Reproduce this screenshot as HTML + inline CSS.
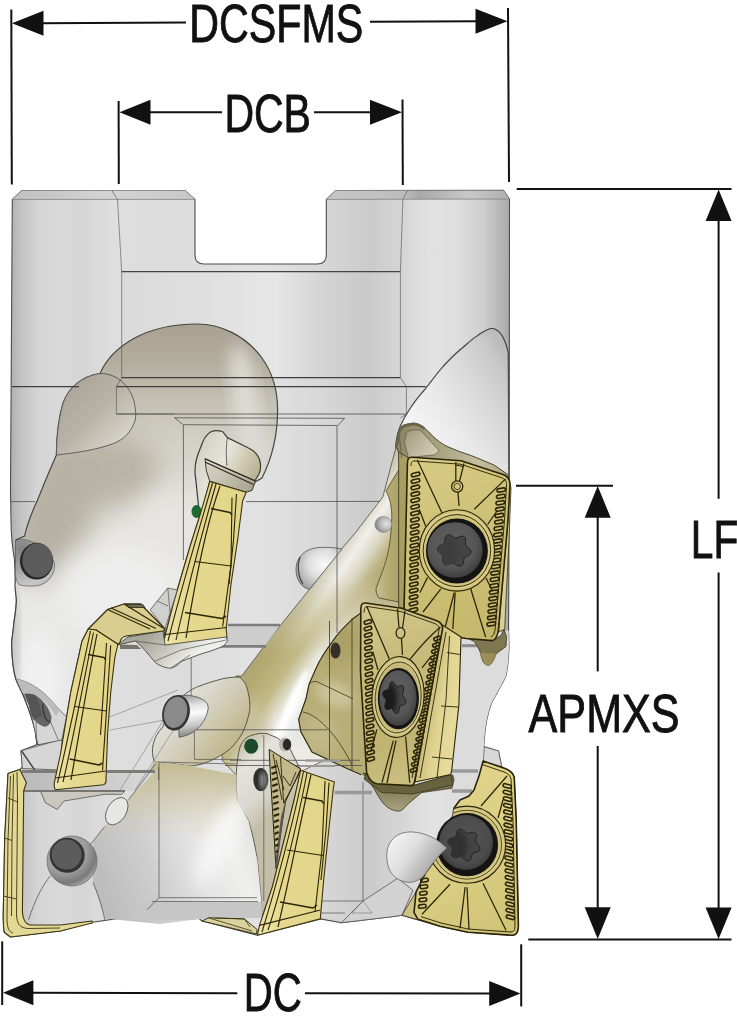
<!DOCTYPE html>
<html><head><meta charset="utf-8">
<style>
html,body{margin:0;padding:0;background:#fff;}
body{width:737px;height:1024px;overflow:hidden;font-family:"Liberation Sans",sans-serif;}
svg{display:block;}
.t{font-family:"Liberation Sans",sans-serif;font-size:53px;fill:#111;stroke:#111;stroke-width:0.9px;}
</style></head><body>
<svg width="737" height="1024" viewBox="0 0 737 1024">
<defs>
<linearGradient id="gBody" x1="12" y1="0" x2="509" y2="0" gradientUnits="userSpaceOnUse">
<stop offset="0" stop-color="#b2b2b2"/><stop offset="0.02" stop-color="#c4c4c4"/><stop offset="0.05" stop-color="#d4d4d4"/><stop offset="0.10" stop-color="#dadada"/><stop offset="0.14" stop-color="#d5d5d5"/>
<stop offset="0.2" stop-color="#dedede"/><stop offset="0.35" stop-color="#dcdcdc"/><stop offset="0.5" stop-color="#e2e2e2"/><stop offset="0.62" stop-color="#d8d8d8"/><stop offset="0.72" stop-color="#cbcbcb"/><stop offset="0.78" stop-color="#d4d4d4"/>
<stop offset="0.84" stop-color="#e2e2e2"/><stop offset="0.90" stop-color="#dedede"/><stop offset="0.95" stop-color="#cdcdcd"/><stop offset="1" stop-color="#aaaaaa"/></linearGradient>
<linearGradient id="gCham" x1="12" y1="0" x2="509" y2="0" gradientUnits="userSpaceOnUse">
<stop offset="0" stop-color="#c0c0c0"/><stop offset="0.2" stop-color="#d4d4d4"/><stop offset="0.36" stop-color="#c8c8c8"/>
<stop offset="0.65" stop-color="#c6c6c6"/><stop offset="0.79" stop-color="#bdbdbd"/><stop offset="0.82" stop-color="#a8a8a8"/><stop offset="0.92" stop-color="#c9c9c9"/><stop offset="1" stop-color="#b0b0b0"/></linearGradient>
<linearGradient id="gMid" x1="122" y1="0" x2="400" y2="0" gradientUnits="userSpaceOnUse">
<stop offset="0" stop-color="#dadada"/><stop offset="0.3" stop-color="#dfdfdf"/><stop offset="0.55" stop-color="#e6e6e6"/><stop offset="0.72" stop-color="#d4d4d4"/><stop offset="0.88" stop-color="#c9c9c9"/><stop offset="1" stop-color="#d6d6d6"/></linearGradient>

<filter id="b4" x="-20%" y="-20%" width="140%" height="140%"><feGaussianBlur stdDeviation="4"/></filter>
<filter id="b8" x="-30%" y="-30%" width="160%" height="160%"><feGaussianBlur stdDeviation="8"/></filter>
<filter id="b14" x="-40%" y="-40%" width="180%" height="180%"><feGaussianBlur stdDeviation="14"/></filter>
<filter id="b2" x="-20%" y="-20%" width="140%" height="140%"><feGaussianBlur stdDeviation="2"/></filter>
<!-- right flute -->
<linearGradient id="gRF" x1="415" y1="425" x2="512" y2="365" gradientUnits="userSpaceOnUse">
<stop offset="0" stop-color="#f4f4f4"/><stop offset="0.3" stop-color="#e9e9e9"/><stop offset="0.65" stop-color="#d8d8d8"/><stop offset="0.9" stop-color="#c8c8c8"/><stop offset="1" stop-color="#bcbcbc"/></linearGradient>
<linearGradient id="gRFtop" x1="0" y1="328" x2="0" y2="400" gradientUnits="userSpaceOnUse"><stop offset="0" stop-color="#bdbdbd" stop-opacity="0.9"/><stop offset="1" stop-color="#cfcfcf" stop-opacity="0"/></linearGradient>
<!-- dome -->
<linearGradient id="gDome" x1="0" y1="324" x2="0" y2="480" gradientUnits="userSpaceOnUse">
<stop offset="0" stop-color="#b9b3a5"/><stop offset="0.3" stop-color="#bfb9ab"/><stop offset="0.6" stop-color="#d3cfc5"/><stop offset="1" stop-color="#e3e1db"/></linearGradient>
<linearGradient id="gLobe" x1="62" y1="385" x2="125" y2="450" gradientUnits="userSpaceOnUse">
<stop offset="0" stop-color="#a9a497"/><stop offset="0.5" stop-color="#b9b4a7"/><stop offset="1" stop-color="#dedbd2"/></linearGradient>
<linearGradient id="gLF" x1="40" y1="470" x2="150" y2="640" gradientUnits="userSpaceOnUse">
<stop offset="0" stop-color="#b5b0a2"/><stop offset="0.3" stop-color="#cdc9bf"/><stop offset="0.6" stop-color="#e4e3df"/><stop offset="1" stop-color="#ededed"/></linearGradient>
<!-- diagonal flute -->
<linearGradient id="gDiag" x1="330" y1="520" x2="420" y2="600" gradientUnits="userSpaceOnUse">
<stop offset="0" stop-color="#d9d6c8"/><stop offset="0.3" stop-color="#c6bd92"/><stop offset="0.7" stop-color="#b3a66b"/><stop offset="1" stop-color="#a3955a"/></linearGradient>

<linearGradient id="gGold1" x1="410" y1="460" x2="500" y2="640" gradientUnits="userSpaceOnUse"><stop offset="0" stop-color="#d8cb86"/><stop offset="0.35" stop-color="#d0c278"/><stop offset="0.7" stop-color="#cabc70"/><stop offset="1" stop-color="#c5b66a"/></linearGradient>
<radialGradient id="gRing" cx="0.5" cy="0.5" r="0.5"><stop offset="0.8" stop-color="#cdbf72"/><stop offset="0.92" stop-color="#dbcf8e"/><stop offset="1" stop-color="#c8ba6e"/></radialGradient>
<radialGradient id="gScrew" cx="0.45" cy="0.4" r="0.6"><stop offset="0" stop-color="#606060"/><stop offset="0.7" stop-color="#565656"/><stop offset="1" stop-color="#404040"/></radialGradient>
<linearGradient id="gPock1" x1="398" y1="440" x2="505" y2="470" gradientUnits="userSpaceOnUse">
<stop offset="0" stop-color="#8a8466"/><stop offset="0.12" stop-color="#98926f"/><stop offset="0.4" stop-color="#aba481"/><stop offset="0.75" stop-color="#c4bf9f"/><stop offset="1" stop-color="#b0a880"/></linearGradient>
<linearGradient id="gSeat1" x1="406" y1="432" x2="436" y2="456" gradientUnits="userSpaceOnUse"><stop offset="0" stop-color="#9f9a80"/><stop offset="0.6" stop-color="#c2bda4"/><stop offset="1" stop-color="#d2ceb8"/></linearGradient>
<linearGradient id="gGold2" x1="362" y1="605" x2="420" y2="785" gradientUnits="userSpaceOnUse"><stop offset="0" stop-color="#d2c78c"/><stop offset="0.4" stop-color="#c6b978"/><stop offset="0.75" stop-color="#c1b472"/><stop offset="1" stop-color="#ccc184"/></linearGradient>
<linearGradient id="gSide2" x1="430" y1="700" x2="460" y2="705" gradientUnits="userSpaceOnUse">
<stop offset="0" stop-color="#cdbf7c"/><stop offset="0.4" stop-color="#e0d492"/><stop offset="1" stop-color="#e6db9c"/></linearGradient>
<radialGradient id="gRing2" cx="0.5" cy="0.5" r="0.5"><stop offset="0.8" stop-color="#c6b978"/><stop offset="0.92" stop-color="#d8cd92"/><stop offset="1" stop-color="#c0b370"/></radialGradient>
<linearGradient id="gGold3" x1="430" y1="780" x2="515" y2="930" gradientUnits="userSpaceOnUse"><stop offset="0" stop-color="#e2d58c"/><stop offset="0.5" stop-color="#dbce82"/><stop offset="1" stop-color="#d1c376"/></linearGradient>
<radialGradient id="gScrew3" cx="0.5" cy="0.45" r="0.6"><stop offset="0" stop-color="#545454"/><stop offset="0.7" stop-color="#4c4c4c"/><stop offset="1" stop-color="#3a3a3a"/></radialGradient>
<clipPath id="cIns3"><path d="M483.1,761 L505,768.6 C510,770.5 513,773 514.2,777 L516.2,820 L518.4,926 C518.4,932 517,934.8 513,935.3 L468,932.3 L440,926.3 L418,919.3 L414,912.3 L416,892.2 L426,872.2 L435,860.2 L440,835 L453,816 L454,808 L460,800 L469,796 L474,790 L479,776 Z"/></clipPath>

<linearGradient id="gPale" x1="0" y1="0" x2="1" y2="0"><stop offset="0" stop-color="#ede4ab"/><stop offset="0.3" stop-color="#e6d98f"/><stop offset="1" stop-color="#e2d488"/></linearGradient>
<linearGradient id="gClampA" x1="205" y1="460" x2="252" y2="490" gradientUnits="userSpaceOnUse"><stop offset="0" stop-color="#d9d6c8"/><stop offset="0.5" stop-color="#c3bfae"/><stop offset="1" stop-color="#a8a38c"/></linearGradient>
<linearGradient id="gPockA" x1="200" y1="440" x2="260" y2="470" gradientUnits="userSpaceOnUse"><stop offset="0" stop-color="#d2cfc4"/><stop offset="0.45" stop-color="#e6e4db"/><stop offset="0.75" stop-color="#cdc8b0"/><stop offset="1" stop-color="#b7b192"/></linearGradient>
<linearGradient id="gPockB" x1="150" y1="636" x2="180" y2="668" gradientUnits="userSpaceOnUse"><stop offset="0" stop-color="#a9a79d"/><stop offset="0.5" stop-color="#c9c8c0"/><stop offset="1" stop-color="#eeeeec"/></linearGradient>

<clipPath id="cDiag"><path id="pDiag" d="M396,447 L382.8,497 L355.7,532.4 L339.4,551.4 L309.5,589.4 L274.3,632.8 L241.7,676 L236,676 L225,700 L222,760 L236,775 L300,772 L327,759 L312,752 L300.8,731.6 L298.7,719.3 L306,698.8 L309,684.4 L316.2,668 L332.6,641.3 L353,618.7 L361.3,612.6 L361.5,604 L404,610 L408,520 L408,458 L400,440 Z"/></clipPath>
<clipPath id="cPock2"><path d="M361.3,612.6 L353,618.7 C345,626 338,633 332.6,641.3 C326,650 320,659 316.2,668 L309,684.4 L306,698.8 L298.7,719.3 L300.8,731.6 L312,752 L347,768.5 L361.3,774.7 L368,778 L362,672 Z"/></clipPath>
<linearGradient id="gCLobe" x1="170" y1="690" x2="240" y2="750" gradientUnits="userSpaceOnUse"><stop offset="0" stop-color="#e9e8e3"/><stop offset="0.35" stop-color="#d9d6ca"/><stop offset="0.7" stop-color="#cac3a3"/><stop offset="1" stop-color="#bbb184"/></linearGradient>
<linearGradient id="gPockD" x1="238" y1="740" x2="290" y2="800" gradientUnits="userSpaceOnUse"><stop offset="0" stop-color="#bdb79c"/><stop offset="0.3" stop-color="#e4e3dc"/><stop offset="0.7" stop-color="#dad9d1"/><stop offset="1" stop-color="#c2bea8"/></linearGradient>
<clipPath id="cFD"><path d="M154.3,761.6 L191.2,766 L236.2,774.7 L236.7,799.5 L248.6,821.2 L257.3,860.3 L261.6,903.7 L261.6,918 L208,918 L160,924 L105,918.6 L93,882.5 L93,841.8 L104.8,826.5 L116,800 L128.5,799.4 L145.5,777.3 Z"/></clipPath>
<radialGradient id="gHole" cx="0.45" cy="0.45" r="0.6"><stop offset="0" stop-color="#7a7a7a"/><stop offset="0.75" stop-color="#707070"/><stop offset="1" stop-color="#4a4a4a"/></radialGradient>
<radialGradient id="gSph" cx="0.6" cy="0.4" r="0.7"><stop offset="0" stop-color="#fafafa"/><stop offset="0.5" stop-color="#dcdcdc"/><stop offset="1" stop-color="#9a9a9a"/></radialGradient>
<linearGradient id="gDiagLo" x1="248" y1="648" x2="322" y2="698" gradientUnits="userSpaceOnUse">
<stop offset="0" stop-color="#aaa27e"/><stop offset="0.25" stop-color="#b4a970"/><stop offset="0.5" stop-color="#c2b987"/><stop offset="0.68" stop-color="#e4e2d4"/><stop offset="0.8" stop-color="#f4f4f2"/><stop offset="1" stop-color="#e6e6e4"/></linearGradient>
<linearGradient id="gDiagUp" x1="340" y1="520" x2="408" y2="566" gradientUnits="userSpaceOnUse">
<stop offset="0" stop-color="#b7b198"/><stop offset="0.18" stop-color="#d3cfbd"/><stop offset="0.36" stop-color="#f0efea"/><stop offset="0.52" stop-color="#ddd9c6"/><stop offset="0.68" stop-color="#bfb585"/><stop offset="0.85" stop-color="#aea468"/><stop offset="1" stop-color="#a89d62"/></linearGradient>
<linearGradient id="gMaskUp" x1="0" y1="575" x2="0" y2="655" gradientUnits="userSpaceOnUse"><stop offset="0" stop-color="#fff"/><stop offset="1" stop-color="#000"/></linearGradient>
<mask id="mDiagUp" maskUnits="userSpaceOnUse" x="200" y="430" width="230" height="360"><rect x="200" y="430" width="230" height="360" fill="url(#gMaskUp)"/></mask>
<linearGradient id="gFD" x1="100" y1="880" x2="262" y2="820" gradientUnits="userSpaceOnUse">
<stop offset="0" stop-color="#bdbdbd"/><stop offset="0.3" stop-color="#cecece"/><stop offset="0.55" stop-color="#e2e2e2"/><stop offset="0.78" stop-color="#efefee"/><stop offset="1" stop-color="#dedede"/></linearGradient>
<linearGradient id="gFDtop" x1="0" y1="760" x2="0" y2="840" gradientUnits="userSpaceOnUse">
<stop offset="0" stop-color="#c3b98e" stop-opacity="1"/><stop offset="0.4" stop-color="#c8c09c" stop-opacity="0.7"/><stop offset="1" stop-color="#d0cab0" stop-opacity="0"/></linearGradient>
<radialGradient id="gSph2" cx="0.68" cy="0.45" r="0.7"><stop offset="0" stop-color="#e2e2e2"/><stop offset="0.5" stop-color="#bcbcbc"/><stop offset="1" stop-color="#7e7e7e"/></radialGradient>
<linearGradient id="gPSide" x1="378" y1="0" x2="399" y2="0" gradientUnits="userSpaceOnUse"><stop offset="0" stop-color="#c6bd8e"/><stop offset="0.5" stop-color="#b5aa70"/><stop offset="1" stop-color="#aca166"/></linearGradient>
<linearGradient id="gCyl" x1="0" y1="694" x2="0" y2="734" gradientUnits="userSpaceOnUse"><stop offset="0" stop-color="#9a9a9a"/><stop offset="0.3" stop-color="#e4e4e4"/><stop offset="0.5" stop-color="#fafafa"/><stop offset="0.8" stop-color="#c4c4c4"/><stop offset="1" stop-color="#909090"/></linearGradient>

<linearGradient id="gWLobe" x1="392" y1="838" x2="440" y2="872" gradientUnits="userSpaceOnUse"><stop offset="0" stop-color="#f2f2f2"/><stop offset="0.4" stop-color="#dedede"/><stop offset="0.75" stop-color="#b6b6b6"/><stop offset="1" stop-color="#8e8e8e"/></linearGradient>
<radialGradient id="gCB" cx="0.15" cy="0.2" r="1.0"><stop offset="0" stop-color="#808080"/><stop offset="0.45" stop-color="#a6a6a6"/><stop offset="0.8" stop-color="#c8c8c8"/><stop offset="1" stop-color="#b8b8b8"/></radialGradient>
<radialGradient id="gCB2" cx="0.35" cy="0.3" r="0.8"><stop offset="0" stop-color="#b0b0b0"/><stop offset="0.55" stop-color="#9c9c9c"/><stop offset="0.8" stop-color="#7a7a7a"/><stop offset="0.93" stop-color="#a8a8a8"/><stop offset="1" stop-color="#d0d0d0"/></radialGradient>
<linearGradient id="gBand" x1="22" y1="0" x2="156" y2="0" gradientUnits="userSpaceOnUse"><stop offset="0" stop-color="#bababa"/><stop offset="0.5" stop-color="#c8c8c8"/><stop offset="1" stop-color="#dadada"/></linearGradient>
<linearGradient id="gShad2" x1="0" y1="778" x2="0" y2="812" gradientUnits="userSpaceOnUse"><stop offset="0" stop-color="#6b6546"/><stop offset="0.45" stop-color="#8a8460"/><stop offset="1" stop-color="#aaa484"/></linearGradient>

<clipPath id="cLF"><path id="pLF" d="M197,324 C220,324 245,335 262,358 C272,372 277.6,390 277.6,410 C277.6,435 271,460 262,478 L253,483 L209.8,481.4 L200.4,513.8 L190,546.6 L173.5,603 L163.6,641.6 L165,629 L140.4,604 L124,604 L107.6,609.5 L88.2,629 L82,641.2 L70.7,692.5 L60.5,754 L59.3,740 L37,744.6 L35.6,732.7 C33,720 30,712 23.4,695.6 L17,682 C14,675 12,660 11.7,644 C12,635 13.6,630 13.6,625 C15,615 16.4,607 16.4,600 L15,587 L15.9,540 L24.6,536 C28,520 34,508 37.5,500 C41,492 43,486 45.7,480 C49,472 53,463 56.4,455 C56.5,440 58,420 63,403.5 C68,388 82,376 100,373.5 C112,346 146,324 197,324 Z"/></clipPath>
<linearGradient id="gLFbase" x1="0" y1="324" x2="0" y2="700" gradientUnits="userSpaceOnUse">
<stop offset="0" stop-color="#a8a192"/><stop offset="0.1" stop-color="#b3ad9e"/><stop offset="0.2" stop-color="#c3bfb2"/><stop offset="0.32" stop-color="#d4d1c8"/><stop offset="0.5" stop-color="#e2e1dc"/><stop offset="0.75" stop-color="#e9e9e8"/><stop offset="1" stop-color="#e6e6e6"/></linearGradient>


</defs>
<rect width="737" height="1024" fill="#fff"/>
<g id="bodybase">
<path id="sil" d="M12.3,199.4 L21.9,190.6 L185,190.6 L195,199.4 L195,255 Q195,264 204,264 L317.3,264 Q326.3,264 326.3,255 L326.3,199.4 L335.8,190.6 L503.4,190.4 L509.5,199 L509.2,480 L508.6,630.5 L509,647 C508.5,660 507.5,670 505.5,677.3 L491.5,703 C487,715 485,728 484.4,738.3 L483.7,746.5 L498.5,751 L501.6,766.4 L505,768.6 L514.2,777 L516.2,820 L518.4,926 L513,935.3 L468,932.3 L440,926.3 L417.2,919.6 L402,915.2 L395.5,916.3 L341.3,922.8 L320.3,918.9 L257.3,935.2 L202,921 L196.4,916.4 L132,916.4 L87.8,923 L60.6,931 L10.5,937 L4,932 L3.2,917 L4.7,838 L8,773.6 L19.8,769.6 L22.4,767 L21,750.7 L37,744.6 L35.6,732.7 C33,720 30,712 23.4,695.6 L17,682 C14,675 12,660 11.7,644 C12,635 13.6,630 13.6,625 C15,615 16.4,607 16.4,600 C16,585 15,570 14.5,560 C12,545 11,530 11,520 L10.5,490 Z" fill="url(#gBody)" stroke="#4c4c4c" stroke-width="1.1" stroke-linejoin="round"/>
<path d="M12.3,199.4 L21.9,190.6 L185,190.6 L195,199.4 Z" fill="url(#gCham)"/>
<path d="M326.3,199.4 L335.8,190.6 L503.4,190.4 L509.5,199 Z" fill="url(#gCham)"/>
<path d="M121.7,272 L400.4,272 L400.4,378 L121.7,378 Z" fill="url(#gMid)"/>
</g>

<g id="flutes">
<!-- right flute -->
<path id="rf" d="M493,328.5 C499,330 505,338 508.2,353 L508.8,478 L502,475 L408.5,457.7 L396,447 C396,438 398,432 400.4,426 C404,418 407,413 410.5,408 C415,401 420,395 424.8,389.6 C430,383 436,375 441,369 C448,361 455,354 461.4,348.8 C467,344 472,339 477.7,335.6 C483,332 488,328 493,328.5 Z" fill="url(#gRF)" stroke="#4a4a4a" stroke-width="1.1"/>
<use href="#rf" fill="url(#gRFtop)" stroke="none"/>
<!-- left flute + dome -->
<g clip-path="url(#cLF)">
<rect x="0" y="315" width="290" height="450" fill="url(#gLFbase)"/>
<ellipse cx="246" cy="405" rx="13" ry="62" fill="#dddcd6" filter="url(#b8)" transform="rotate(-8 246 405)"/>
<ellipse cx="110" cy="470" rx="50" ry="36" fill="#b9b4a6" filter="url(#b14)"/>
<ellipse cx="55" cy="510" rx="40" ry="75" fill="#b6b1a3" filter="url(#b14)" transform="rotate(20 55 510)"/>
<ellipse cx="170" cy="540" rx="36" ry="50" fill="#e6e5e1" filter="url(#b14)"/>
<ellipse cx="120" cy="590" rx="60" ry="45" fill="#eeeeee" filter="url(#b14)"/>
<ellipse cx="40" cy="680" rx="22" ry="50" fill="#f0f0f0" filter="url(#b8)"/>
<ellipse cx="12" cy="640" rx="7" ry="60" fill="#c6c6c6" filter="url(#b4)"/>
</g>
<use href="#pLF" fill="none" stroke="#45453f" stroke-width="1.2"/>
<!-- lobe -->
<path id="lobe" d="M56.4,455 C56.5,440 58,420 63,403.5 C68,388 82,376 100,373.5 C118,373 133,388 135,407 C136,413 136,417 135,421 C131,432 124,440 112,444 C96,450 75,453 56.4,455 Z" fill="url(#gLobe)" stroke="#555" stroke-width="0.9"/>
</g>

<g id="flutes2">
<!-- diagonal flute -->
<g clip-path="url(#cDiag)">
<rect x="215" y="440" width="200" height="345" fill="url(#gDiagLo)"/>
<rect x="215" y="440" width="200" height="345" fill="url(#gDiagUp)" mask="url(#mDiagUp)"/>
<ellipse cx="291" cy="706" rx="4.5" ry="40" fill="#ffffff" filter="url(#b2)" transform="rotate(24 291 706)"/>
<ellipse cx="300" cy="756" rx="30" ry="12" fill="#ecebe6" filter="url(#b4)"/>
<ellipse cx="250" cy="730" rx="14" ry="30" fill="#c9c2a0" filter="url(#b8)"/>
</g>
<use href="#pDiag" fill="none" stroke="#55523e" stroke-width="0.8"/>
<!-- pocket wall strip left of insert 1 -->
<path d="M398.6,440 L408.5,458 L404,610 L398.6,606 Z" fill="#a89d62" stroke="#3c381c" stroke-width="0.9"/>
<path d="M386,490.8 C390,498 392,508 391.8,518 C391.5,532 390,545 387,557 C384,568 380,578 376,588.4 C376,592 377,595.5 379,598 L398.6,602 L398.6,470 Z" fill="url(#gPSide)" stroke="#4a4628" stroke-width="0.8"/>
<!-- small sphere -->
<ellipse cx="383.4" cy="524.4" rx="8.5" ry="8" fill="url(#gSph2)" stroke="#777" stroke-width="0.5"/>
<!-- dome sphere on flute edge -->
<path d="M296,570 C296,556 306,548 320,547.5 C330,547 338,548 342,549 L309.5,589.4 C302,588 296,580 296,570 Z" fill="url(#gSph)" stroke="#555" stroke-width="0.8"/>
<path d="M300,557 C297,565 298,577 303,584" fill="none" stroke="#444" stroke-width="1.2"/>
<!-- pocket 2 -->
<g clip-path="url(#cPock2)">
<rect x="295" y="600" width="80" height="185" fill="#b8ad76"/>
<ellipse cx="340" cy="640" rx="22" ry="26" fill="#aca066" filter="url(#b8)"/>
<ellipse cx="335" cy="695" rx="20" ry="12" fill="#cbc298" filter="url(#b4)" transform="rotate(25 335 695)"/>
<ellipse cx="320" cy="735" rx="18" ry="20" fill="#c2b888" filter="url(#b8)"/>
</g>
<path d="M361.3,612.6 L353,618.7 C345,626 338,633 332.6,641.3 C326,650 320,659 316.2,668 L309,684.4 L306,698.8 L298.7,719.3 L300.8,731.6 L312,752 L347,768.5 L361.3,774.7" fill="none" stroke="#2f2b12" stroke-width="1.1"/>
<path d="M309,684.4 C312,681 316,681 318.2,682.3 L353,698.8 M303,712 C320,715 340,740 352,765 M329.5,620.8 L329.5,760.3 M352,618 L352,770.6" fill="none" stroke="#3c381c" stroke-width="0.8"/>
<ellipse cx="335.5" cy="650.5" rx="5" ry="8" fill="#33312a"/>
<!-- centre lobe -->
<path d="M154.3,761.6 C152,755 152,750 153.2,744.2 C155,737 158,732 163,726.8 C170,705 185,692 197.7,686.7 C206,683.5 214,681 221.6,679 C228,677.5 234,677 239,677 C244,680 246.5,685 247.6,690 C249.5,697 250,703 249.8,709.5 C248.5,718 246,725 243.3,731.2 C240,738 235,744 230.3,748.6 C224,754 216,758.5 208.6,761.6 C203,764 197,765.5 191.2,766 Z" fill="url(#gCLobe)" stroke="#4a4a42" stroke-width="0.9"/>
<!-- pocket D -->
<path d="M240.3,746 C243,741 246,737 250.5,735.7 C256,733.5 262,733 267,733.6 L277.2,737.8 L289.5,748 L300.7,770 L294.2,799.5 L283.4,842.9 L272.5,886.3 L261.6,918 L261.6,903.7 L257.3,860.3 C255,845 252,832 248.6,821.2 C244,812 238,806 236.7,799.5 L236.2,774.7 C236.5,764 238,754 240.3,746 Z" fill="url(#gPockD)" stroke="#4a4a42" stroke-width="0.9"/>
<ellipse cx="251.2" cy="746.2" rx="7" ry="7.5" fill="#1d4a2c"/>
<ellipse cx="260.8" cy="779.5" rx="7.5" ry="11.5" fill="#2e2e2c"/><ellipse cx="263.2" cy="780.5" rx="3.6" ry="8.5" fill="#8e8e8c" filter="url(#b2)"/>
<ellipse cx="285" cy="744.5" rx="6" ry="7" fill="#b4b4b2"/><ellipse cx="287" cy="744.5" rx="4.2" ry="5.8" fill="#2c2a26"/>
<!-- flute in front of D -->
<g clip-path="url(#cFD)">
<rect x="90" y="745" width="180" height="185" fill="url(#gFD)"/>
<rect x="90" y="745" width="180" height="185" fill="url(#gFDtop)"/>
<ellipse cx="222" cy="840" rx="14" ry="50" fill="#f6f6f6" filter="url(#b8)" transform="rotate(28 222 840)"/>
<path d="M147,902 L262,902 L262,920 L130,920 Z" fill="#c6c6c6"/>
</g>
</g>

<g id="lower">
<path d="M458,640 L508.6,630.5 L509,647 C508.5,660 507.5,670 505.5,677.3 L491.5,703 C487,715 485,728 484.4,738.3 L483.7,746.5 L483.3,761.7 L474,790 L450,792 L452,770 Z" fill="#dcdcdc"/>
<!-- ledge -->
<path d="M21,750.7 L59.3,740 L62,740 L60,770 L22.4,768.5 Z" fill="#d6d6d6" stroke="#55534a" stroke-width="0.8"/>
<path d="M21.7,751 L36,772" fill="none" stroke="#444" stroke-width="1.4"/>
<!-- band under ledge (left) -->
<path d="M22,770 L156,770 L137,791 L22,791 Z" fill="url(#gBand)"/>
<!-- pocket below band -->
<path d="M40.4,791 L45.4,802.8 L57.3,809.5 L64,801 L104.8,794.3 L121.8,794.3 L125,791 Z" fill="#c9c7bf" stroke="#55534a" stroke-width="0.8"/>
<!-- bottom-right diagonal panel -->
<path d="M341.3,922.8 L363,901 L397.7,878.3 L413,890.3 L402,915.2 L395.5,916.3 Z" fill="#d2d2d2" stroke="#555" stroke-width="0.8"/>
<path d="M352,913 L372,913 L363,901 Z" fill="none" stroke="#777" stroke-width="0.6"/>
<!-- insert 2 shadow on body -->
<path d="M363,773 L373.8,788.2 C378,796 382,803 386.8,806.7 C391,810 396,811.5 400,811 C404,809 406,806 408.6,803.4 L421.6,792.6 L452,788.2 L454,779.5 L452.7,775 L411,786 Z" fill="url(#gShad2)" stroke="#3a351c" stroke-width="0.8"/>
<!-- insert 3 left side face -->
<path d="M418.3,888 L402,915.2 L417.2,919.6 L419,919 Z" fill="#cdc186" stroke="#3a3414" stroke-width="0.8"/>
<!-- small tab right -->
<path d="M484.4,747 L498.5,751 L501.6,766.4 L483.3,761.7 Z" fill="#d8d8d8" stroke="#666" stroke-width="0.8"/>
</g>

<g id="lines" fill="none" stroke="#4f4f4f" stroke-width="0.8">
<path d="M112,190.6 L117.5,199.4 L121.7,272 L121.7,378 L116.4,386.6 L116.4,414 L174.6,414" stroke-width="0.6"/>
<path d="M407.4,190.6 L402.9,199.4 L400.4,272 L400.4,377.7 L406.4,386.6 L406.4,414 L400.4,418" stroke-width="0.6"/>
<path d="M12.3,199.4 L195,199.4 M326.3,199.4 L509.5,199" stroke="#777" stroke-width="0.7"/>
<path d="M121.7,271.7 L400.4,271.7" stroke-width="1.2" stroke="#444"/>
<path d="M121.7,377.7 L400.4,377.7" stroke-width="1.3" stroke="#3f3f3f"/>
<path d="M12,386.6 L79,386.6 M116.4,386.6 L425.8,386.6" stroke-width="1.4" stroke="#3f3f3f"/>
<path d="M116.4,414 L406.4,414"/>
<path d="M174.6,417.8 L344.7,418.3 L337,426.4 L337,633 M174.6,417.8 L183.4,425 L183.4,560 M183.4,424.7 L337,425.5"/>
<path d="M11,501.6 L35,501.6 M246,501.6 L380,501.4 M509,501"/>
<path d="M159,762 L159,897.7 L147.2,909.6 M159,897.7 L257,897.7 M152,901.5 L258,901.5 M159,762 L236,764" stroke-width="0.7"/>
<path d="M263.8,735 L263.8,901" stroke-width="0.7"/>
<path d="M195,729.8 L327.5,729.8 M230,760.3 L360,760.3 M225,765.5 L362,765.5" stroke-width="0.8"/>
<path d="M363,781.7 L363,901 M300,901 L363,901 M320,913 L345,913" stroke-width="0.7"/>
<path d="M194.4,729 L194.4,759.4 L241,759.4 M158.6,767 L158.6,780 M191.2,640 L191.2,695" stroke-width="0.7"/>
<!-- thin construction lines -->
<path d="M97,722 L178,690 M110,730 L176,718 M120,790 L176,700 M135,790 L185,712" stroke="#6a6a6a" stroke-width="0.5"/>
</g>
<!-- gray step bands -->
<g id="bands">
<path d="M228,625 L280,625 L265,646 L227,646 Z" fill="#cdcdcd"/>
<path d="M228,625 L280,625 M218,646.4 L266,646.4" stroke="#7d7d7d" stroke-width="2.6" fill="none"/>
<path d="M462,645.7 L480,645.7" stroke="#8a8a8a" stroke-width="3" fill="none"/>
<path d="M305,760.6 L340,760.6 M300,766 L335,766" stroke="#9a9a98" stroke-width="2.2" fill="none"/>
<path d="M452,771 L478,771 M452,791 L472,791 M334.7,792.5 L372,792.5" stroke="#999" stroke-width="3.5" fill="none"/>
<path d="M22,771.5 L155,771.5" stroke="#7c7c7a" stroke-width="3" fill="none"/><path d="M22,791 L125,791" stroke="#77756e" stroke-width="1.8" fill="none"/>
</g>

<g id="holes">
<!-- left hole -->
<path d="M15.4,543 C16.5,540.5 18,539.4 20.2,539.2 C26,539.5 31,541 36.3,543.5 C44,547 51,554 54.4,563 C55,567 54,571 52.5,574.4 C49,581 43,585 36.3,585.8 C30,586.5 24,586 19.2,584.8 C17,582 15.8,578 15.4,574.4 Z" fill="url(#gCB)" stroke="#666" stroke-width="0.8"/>
<ellipse cx="36.6" cy="561.2" rx="16.6" ry="18.4" fill="#262626"/>
<ellipse cx="37.6" cy="560.4" rx="15.2" ry="17.2" fill="#5c5c5c"/>
<!-- left-lower partial hole -->
<path d="M16.3,679 C20,680 24,681 27,682.4 C35,686 42,691 47.5,696.6 C52,701 56,706 59.7,710.2 L66.5,717 L61.7,740 L38,744.8 L36,736 L31.9,717 L29.2,704.8 L22.4,692.6 Z" fill="#d6d6d6" stroke="#555" stroke-width="0.8"/>
<path d="M16.3,679 C20,680 24,681 27,682.4 C35,686 42,691 47.5,696.6 C52,701 56,706 59.7,710.2 L56,716 C50,706 42,698 35.3,695.3 L24.4,694 L22.4,692.6 Z" fill="#bcbcbc"/>
<path d="M24.4,694 C28,693.5 32,694 35.3,695.3 C39,697 42,700 44.8,703.4 C48,707 50,712 51.6,717 C51.5,720 50.5,723 48.8,725 C47,726.5 45,727 43.4,726.5 C40,725 36.5,722.5 33.9,719.7 C32,716 30.5,712.5 29.9,708.8 C28.5,703 26.5,698 24.4,694 Z" fill="#646464"/>
<path d="M24.4,694 C28,693.5 32,694 35.3,695.3 C38,700 41,708 42,716 C39,717 36,718 33.9,719.7 C32,716 30.5,712.5 29.9,708.8 C28.5,703 26.5,698 24.4,694 Z" fill="#555"/>
<path d="M42.7,703.4 C42.5,709 43.5,713.5 44.8,717 C46.5,720 48.5,721.8 50.9,722.4" fill="none" stroke="#2e2e2e" stroke-width="1.1"/>
<path d="M36,722 L36.6,744 M51,723 L58.3,740" fill="none" stroke="#555" stroke-width="0.7"/>
<!-- centre hole -->
<path d="M180.3,694.3 C190,694 200,697 206.4,703 C209,706 209.5,709 208.6,711.6 C206,720 200,727 193.4,731 C188,734 182,735.5 176,735.5 Z" fill="url(#gCyl)" stroke="#555" stroke-width="0.8" transform="rotate(-8 190 714)"/>
<ellipse cx="176" cy="712.7" rx="13.6" ry="18" fill="#333" transform="rotate(14 176 712.7)"/>
<ellipse cx="175.6" cy="712.4" rx="11.4" ry="15.8" fill="#8a8a8a" transform="rotate(14 175.6 712.4)"/>
<!-- bottom-left hole -->
<ellipse cx="72" cy="861" rx="25" ry="25" fill="url(#gCB2)" stroke="#666" stroke-width="0.7"/>
<ellipse cx="67.2" cy="855.3" rx="17.5" ry="17.5" fill="#333"/>
<ellipse cx="66.6" cy="854.6" rx="15" ry="15" fill="#5c5c5c"/>
<!-- lobe near hole -->
<ellipse cx="116.7" cy="811.2" rx="9.5" ry="15" fill="#e6e6e4" stroke="#555" stroke-width="0.8" transform="rotate(32 116.7 811.2)"/>
<g fill="none" stroke="#555" stroke-width="0.8">
<path d="M50.5,875.7 C42,886 36,898 28.5,919.8"/>
<path d="M90,845 C96,838 100,832 104.8,826.5 M128.5,799.4 C135,792 142,782 155.7,763.7"/>
<path d="M93,882.5 C97,892 101,902 104.8,919.8"/>
</g>
</g>

<g id="sideins" stroke-linejoin="round">
<!-- pocket above insert A -->
<path d="M195.7,478.6 C194,470 196,458 200.4,448 C203,440 206,434 211,431.7 C215,430 219,430.5 222.7,431.7 L227.4,437.6 L248.5,448 C255,451 259,456 260.2,462.2 C261,467 260.5,471 259,474 L253.2,483.3 L246,492 L209.8,481.4 L200,520 Z" fill="url(#gPockA)" stroke="#3c3c36" stroke-width="1.2"/>
<path d="M227.4,437.6 C226,445 226,455 227,466" fill="none" stroke="#4a4a42" stroke-width="0.8"/>
<!-- clamp A -->
<path d="M205,458.7 L255.5,481 L252,490.4 L246.2,492.2 L209.8,481.4 L206.3,470.4 Z" fill="url(#gClampA)" stroke="#3c3a30" stroke-width="1"/>
<path d="M205,458.7 L255.5,481 M205.5,462.2 L253.5,484.5" fill="none" stroke="#2a281e" stroke-width="1.2"/>
<!-- green dot A -->
<ellipse cx="196.5" cy="511.5" rx="5" ry="6.5" fill="#1f6a30"/>
<!-- INSERT A -->
<path d="M209.8,481.4 L246.2,492.2 L242.6,501 L238,537.3 L231,584.2 L226.2,628.7 L227,637 C227,640 226,641 224,641.3 L166.4,646.3 C164,646.2 163.2,644 163.6,641.6 L173.5,603 L190,546.6 L200.4,513.8 Z" fill="url(#gPale)" stroke="#3a3414" stroke-width="1.1"/>
<g fill="none" stroke="#2b2508" stroke-width="1.1">
<path d="M212.5,483 C205,510 186,570 168,641"/><path d="M216,484 C208,512 192,570 176,640"/><path d="M220,486 C208,520 196,575 186,638" stroke-width="1.2"/>
<path d="M232,497.4 L231,565.4 L222.7,626.4"/><path d="M236.5,494 L233.5,540 L229,584"/>
<path d="M211,508.5 L230,512.5 L232,515" stroke-width="1.4"/><path d="M194.6,561.5 L231,566" stroke-width="1.2"/><path d="M185,612.5 L222,618.5 L226,616" stroke-width="1.5"/>
<path d="M165.5,634.5 L226.5,627.5"/>
</g>
<!-- pocket under flap B -->
<path d="M117.6,645 L128,637 L163,631 L165,645 L226.2,637 L227.5,641 C225,645 222,647 219.4,647.8 C214,650 208,652 203,653.3 C195,656 188,659 181.4,661.4 C178,665 174,667.5 170.6,668.2 C164,668 158,665 154.3,661.4 C148,654 142,646 135.3,641 Z" fill="url(#gPockB)" stroke="#4a4a42" stroke-width="0.9"/>
<path d="M135.3,641 L165,645 M154.3,661.4 L181,650 L226,640 M170.6,668.2 L190,655" fill="none" stroke="#55534a" stroke-width="0.7"/>
<path d="M120,644.5 L137,645 L141,649 L120,649 Z" fill="#77756b"/>
<path d="M150.2,609.9 L167.8,588 L177.3,590 L165,628.8 Z" fill="#d0d0ce" stroke="#55534a" stroke-width="0.8"/>
<path d="M157,601 L168,606 M167.8,588 L170,612" fill="none" stroke="#55534a" stroke-width="0.7"/>
<!-- INSERT B flap -->
<path d="M88.2,629 L107.6,609.5 L124,604 L140.4,604 L165,629 L163,631 L126,636 C122,637 120.5,639 120,642.3 L117.9,644.3 Z" fill="#dacd90" stroke="#3a3414" stroke-width="1.1"/>
<path d="M126,604.3 L142.5,604.3 L145,607.5 L128.5,607.5 Z" fill="#6d6a5c" stroke="#2b2508" stroke-width="0.8"/>
<g fill="none" stroke="#2b2508" stroke-width="1.1"><path d="M107.6,609.5 L150,629"/><path d="M111,608 L156,628.5"/><path d="M124,604 L163,628" stroke-width="1.2"/><path d="M88.2,629 L96,630 L117.9,644.3"/></g>
<!-- INSERT B arm -->
<path d="M88.2,629 L82,641.2 L70.7,692.5 L60.5,754 L54.3,782.7 C54,786 54.5,788.5 55.4,789.8 L103.5,784.7 C105.5,784 106.3,781 106,778.6 L107.6,733.5 L110.7,692.5 L114.8,657.6 L117.9,644.3 L96,630 Z" fill="url(#gPale)" stroke="#3a3414" stroke-width="1.1"/>
<g fill="none" stroke="#2b2508" stroke-width="1.1">
<path d="M90.5,631 C80,680 68,740 57.5,783"/><path d="M93.5,632.5 C84,680 73,740 63,782"/><path d="M97,634 C88,680 78,740 71,780" stroke-width="1.2"/>
<path d="M110.7,645.3 L106.6,708.9 L102.5,770.4"/><path d="M106.5,643 L103.5,690 L100.5,735"/>
<path d="M88,654.5 L104,657.5 L106,660" stroke-width="1.4"/><path d="M74.8,706.5 L106.6,711" stroke-width="1.2"/><path d="M69.7,759 L99,765 L102.5,763" stroke-width="1.5"/>
<path d="M55.5,778 L105.5,771"/>
</g>
<!-- INSERT C (left edge) -->
<path d="M19.8,769.6 L8,773.6 L4.7,838 L3.2,917 C3.2,926 3.5,930 4.5,932.5 L10.5,937 L60.6,931 L92.3,923 L92,921 L60.6,925 L30,925 C25,924 22.8,918 22.4,912 L23.7,790.7 L26.4,782.8 Z" fill="#e4d994" stroke="#3a3414" stroke-width="1.1"/>
<g fill="none" stroke="#3a3414" stroke-width="0.9"><path d="M10.5,776 L8,840 L7,918 C7,928 9,932 13,933"/><path d="M17,772 L17.5,800 L16.5,915 C17,924 20,928 28,928.5 L60,928"/><path d="M13.5,774 L12,840 L11.5,916"/><path d="M4.5,838 L12,840.5"/><path d="M3.5,896 L16.5,899"/><path d="M8,798 L17.5,802"/></g>
<!-- INSERT D face side (olive w/ serrations) -->
<path d="M269.2,749.5 L300.7,769 L285.5,801.6 L275.8,864.6 L270.3,773.4 Z" fill="#c2b88c" stroke="#2b2508" stroke-width="1"/>
<path d="M281,816.8 L285,803 L277,868 L274.7,869 Z" fill="#5a5850"/>
<g stroke="#2b2508" stroke-width="2.1" fill="none"><path d="M271.3,768 l5.5,-2 M271.6,774 l5.5,-2 M271.9,780 l5.5,-2 M272.2,786 l5.5,-2 M272.5,792 l5.5,-2 M272.8,798 l5.5,-2 M273.1,804 l5.5,-2 M273.4,810 l5.5,-2 M273.7,816 l5.5,-2 M274,822 l5,-2 M274.3,828 l4.5,-2 M274.6,834 l4,-2 M274.9,840 l3.5,-1.5 M275.2,846 l3,-1.5 M275.5,852 l2.5,-1"/>
<path d="M280.5,757.6 L283.7,803.2 L300,772.2 M273,754 L282,800 M276,760 L284,790" stroke-width="0.9"/><path d="M283,776 L290,786 L296,772" stroke-width="0.9"/></g>
<!-- INSERT D flat bottom piece -->
<path d="M202,921 L208.5,917.8 L244.3,918.9 L257.3,929.7 L256.2,934 Z" fill="#dbd19c" stroke="#3a3414" stroke-width="1"/>
<path d="M208.5,917.8 L252,931 M215,918 L244.3,918.9 L250,927" fill="none" stroke="#3a3414" stroke-width="0.8"/>
<!-- INSERT D arm -->
<path d="M300.7,770.2 L334.4,782 L333.3,788.6 L329,827.7 L323.5,882 L320.3,918.9 L257.3,935.2 L259.5,925.4 L272.5,886.3 L283.4,842.9 L294.2,799.5 Z" fill="url(#gPale)" stroke="#3a3414" stroke-width="1.1"/>
<g fill="none" stroke="#2b2508" stroke-width="1.1">
<path d="M303.5,771.5 C294,820 275,890 262,932"/><path d="M307,773 C298,820 282,888 268,930"/><path d="M311,774.5 C300,825 288,885 278,927" stroke-width="1.2"/>
<path d="M325,781 L322,850 L315,912"/><path d="M329,782.5 L326,830 L321,880"/>
<path d="M303,797.5 L322,801 L324,804" stroke-width="1.4"/><path d="M287,850 L323,855.5" stroke-width="1.2"/><path d="M280,902 L313,908 L317,905" stroke-width="1.5"/>
<path d="M259.5,925.4 L320.5,910"/>
</g>
</g>

<g id="ins1">
<path d="M395.9,446.5 L398.3,432.3 C400,427 403,424.8 406.5,424.2 L413.6,423 C418,423.5 421,425 423.8,427.2 C427,430 430,433 433,436.4 C437,440 442,444 447.2,446.5 C455,450 463,453 471.6,455.7 L494,465 L508.5,475 L508.5,482 L409,458 L398.6,452 Z" fill="url(#gPock1)" stroke="#4a4630" stroke-width="1"/>
<path d="M406.5,432.3 C411,429.5 416,429.5 420.7,430.3 L439,450.6 L435,454.7 L408.5,457.7 L404.4,442.5 Z" fill="url(#gSeat1)" stroke="#5a5640" stroke-width="0.7"/>
<path d="M398.3,432.3 C400,440 401,450 401.5,458" fill="none" stroke="#5a5640" stroke-width="0.7"/>
<path d="M396.5,446 L399,433 C400.5,428 403.5,425.6 406.8,425.2 L413.6,424 C417.5,424.5 421,426 423.5,428.2" fill="none" stroke="#6a6548" stroke-width="2.4" stroke-linecap="round"/>
<path d="M463.2,636 L474.2,641.5 C477,645 479,649 480.3,652.5 C481,656 482,659 482.7,661 C484,664 486.5,665.5 488.8,665.3 C491,664.5 492.7,662 493.7,659.8 L496.2,653.7 L506,646.4 L506.5,636.6 L504,629.3 L501,635.4 L492.5,641 Z" fill="#7f7751" stroke="#3a351c" stroke-width="0.8"/>
<path d="M480.3,652.5 C481,656 482,659 482.7,661 C484,664 486.5,665.5 488.8,665.3 C491,664.5 492.7,662 493.7,659.8 L496.2,653.7 Z" fill="#9a8f5a"/>
<path d="M509,480 L511,488 L509,540 L506,600 L504.7,629.3 L498.6,631.7 L501,600 L508,520 Z" fill="#d9cf98" stroke="#3a3414" stroke-width="0.8"/>
<path id="f1" d="M407.4,463.7 C407.4,459 408.5,457 412,457.2 L461,460.8 L503,474.5 C508,476.5 510.3,479 510,484.6 L508,520 L501,600 L498.6,628 C498,635 496.5,639.5 492.5,640.6 L466,638.5 L455,636.5 L404,612 Z" fill="url(#gGold1)" stroke="#2b2508" stroke-width="1.6" stroke-linejoin="round"/>
<path d="M411,466 C411,462 412,460.8 415,461 L460.5,464.2 L501,477.5 C505,479 506.7,481 506.5,485 L504.5,520 L497.6,600 L495.4,626 C495,632 494,635.5 491,637" fill="none" stroke="#2b2508" stroke-width="0.95"/>
<g stroke="#2b2508" stroke-width="1.25" fill="none">
<path d="M442,513 L417.3,460"/><path d="M425.8,526.4 L419.2,509.3"/><path d="M474.3,509.3 L505.6,478.9"/><path d="M487.6,524.5 L497,511"/>
<path d="M454.3,592.5 L445.5,626"/><path d="M455.2,592.5 L452.8,629"/><path d="M470.7,588.8 L485.6,637"/><path d="M440.8,588.8 L423,612"/><path d="M427.4,577.6 L420,592.5"/><path d="M486,578 L492,590"/>
<circle cx="457.2" cy="486.5" r="5.6"/><circle cx="457.2" cy="486.5" r="3.2" stroke-width="0.8"/>
<path d="M455.8,481 L455.8,462 M459.5,481.3 L464,463.5 M455.8,465 L463.5,466.5"/><path d="M458,492 L459,506"/>
</g>
<g fill="none" stroke="#2b2508" stroke-width="1.6"><rect x="411.3" y="472.8" width="8.6" height="3.4" rx="1.7" transform="rotate(-14 415.6 474.5)"/><rect x="411.2" y="479.3" width="8.6" height="3.4" rx="1.7" transform="rotate(-14 415.5 481.0)"/><rect x="411.1" y="485.7" width="8.6" height="3.4" rx="1.7" transform="rotate(-14 415.4 487.4)"/><rect x="411.0" y="492.2" width="8.6" height="3.4" rx="1.7" transform="rotate(-14 415.3 493.9)"/><rect x="410.9" y="498.6" width="8.6" height="3.4" rx="1.7" transform="rotate(-14 415.2 500.3)"/><rect x="410.8" y="505.1" width="8.6" height="3.4" rx="1.7" transform="rotate(-14 415.1 506.8)"/><rect x="410.7" y="511.5" width="8.6" height="3.4" rx="1.7" transform="rotate(-14 415.0 513.2)"/><rect x="410.6" y="518.0" width="8.6" height="3.4" rx="1.7" transform="rotate(-14 414.9 519.7)"/><rect x="410.5" y="524.4" width="8.6" height="3.4" rx="1.7" transform="rotate(-14 414.8 526.1)"/><rect x="410.4" y="530.9" width="8.6" height="3.4" rx="1.7" transform="rotate(-14 414.7 532.6)"/><rect x="410.3" y="537.3" width="8.6" height="3.4" rx="1.7" transform="rotate(-14 414.6 539.0)"/><rect x="410.1" y="543.8" width="8.6" height="3.4" rx="1.7" transform="rotate(-14 414.4 545.5)"/><rect x="410.0" y="550.2" width="8.6" height="3.4" rx="1.7" transform="rotate(-14 414.3 551.9)"/><rect x="409.9" y="556.7" width="8.6" height="3.4" rx="1.7" transform="rotate(-14 414.2 558.4)"/><rect x="409.8" y="563.1" width="8.6" height="3.4" rx="1.7" transform="rotate(-14 414.1 564.8)"/><rect x="409.7" y="569.6" width="8.6" height="3.4" rx="1.7" transform="rotate(-14 414.0 571.3)"/><rect x="409.6" y="576.0" width="8.6" height="3.4" rx="1.7" transform="rotate(-14 413.9 577.7)"/><rect x="409.5" y="582.5" width="8.6" height="3.4" rx="1.7" transform="rotate(-14 413.8 584.2)"/><rect x="409.4" y="588.9" width="8.6" height="3.4" rx="1.7" transform="rotate(-14 413.7 590.6)"/><rect x="409.3" y="595.4" width="8.6" height="3.4" rx="1.7" transform="rotate(-14 413.6 597.1)"/><rect x="409.2" y="601.8" width="8.6" height="3.4" rx="1.7" transform="rotate(-14 413.5 603.5)"/><rect x="409.1" y="608.3" width="8.6" height="3.4" rx="1.7" transform="rotate(-14 413.4 610.0)"/></g>
<g fill="none" stroke="#2b2508" stroke-width="1.6"><rect x="497.0" y="488.3" width="8.6" height="3.4" rx="1.7" transform="rotate(-10 501.3 490.0)"/><rect x="496.5" y="494.7" width="8.6" height="3.4" rx="1.7" transform="rotate(-10 500.8 496.4)"/><rect x="496.0" y="501.1" width="8.6" height="3.4" rx="1.7" transform="rotate(-10 500.3 502.8)"/><rect x="495.6" y="507.4" width="8.6" height="3.4" rx="1.7" transform="rotate(-10 499.9 509.1)"/><rect x="495.1" y="513.8" width="8.6" height="3.4" rx="1.7" transform="rotate(-10 499.4 515.5)"/><rect x="494.6" y="520.2" width="8.6" height="3.4" rx="1.7" transform="rotate(-10 498.9 521.9)"/><rect x="494.1" y="526.6" width="8.6" height="3.4" rx="1.7" transform="rotate(-10 498.4 528.3)"/><rect x="493.7" y="533.0" width="8.6" height="3.4" rx="1.7" transform="rotate(-10 498.0 534.7)"/><rect x="493.2" y="539.3" width="8.6" height="3.4" rx="1.7" transform="rotate(-10 497.5 541.0)"/><rect x="492.7" y="545.7" width="8.6" height="3.4" rx="1.7" transform="rotate(-10 497.0 547.4)"/><rect x="492.2" y="552.1" width="8.6" height="3.4" rx="1.7" transform="rotate(-10 496.5 553.8)"/><rect x="491.8" y="558.5" width="8.6" height="3.4" rx="1.7" transform="rotate(-10 496.1 560.2)"/><rect x="491.3" y="564.9" width="8.6" height="3.4" rx="1.7" transform="rotate(-10 495.6 566.6)"/><rect x="490.8" y="571.3" width="8.6" height="3.4" rx="1.7" transform="rotate(-10 495.1 573.0)"/><rect x="490.3" y="577.6" width="8.6" height="3.4" rx="1.7" transform="rotate(-10 494.6 579.3)"/><rect x="489.9" y="584.0" width="8.6" height="3.4" rx="1.7" transform="rotate(-10 494.2 585.7)"/><rect x="489.4" y="590.4" width="8.6" height="3.4" rx="1.7" transform="rotate(-10 493.7 592.1)"/><rect x="488.9" y="596.8" width="8.6" height="3.4" rx="1.7" transform="rotate(-10 493.2 598.5)"/><rect x="488.4" y="603.2" width="8.6" height="3.4" rx="1.7" transform="rotate(-10 492.7 604.9)"/><rect x="488.0" y="609.5" width="8.6" height="3.4" rx="1.7" transform="rotate(-10 492.3 611.2)"/><rect x="487.5" y="615.9" width="8.6" height="3.4" rx="1.7" transform="rotate(-10 491.8 617.6)"/><rect x="487.0" y="622.3" width="8.6" height="3.4" rx="1.7" transform="rotate(-10 491.3 624.0)"/></g>
<ellipse cx="456.9" cy="550.4" rx="37.7" ry="40.7" fill="url(#gRing)" stroke="#2b2508" stroke-width="1.1"/>
<ellipse cx="456.9" cy="550.6" rx="33.8" ry="36" fill="none" stroke="#2b2508" stroke-width="0.95"/>
<ellipse cx="456.9" cy="551.1" rx="31" ry="32.5" fill="#141414"/><ellipse cx="455" cy="550" rx="27.6" ry="27.8" fill="url(#gScrew)"/><clipPath id="ct1"><path d="M471.1,552.2 L470.6,553.6 L469.5,554.8 L468.0,555.7 L466.5,556.4 L465.3,557.1 L464.4,557.9 L464.0,558.9 L463.8,560.3 L463.6,562.0 L463.2,563.6 L462.4,565.1 L461.2,566.0 L459.7,566.3 L458.1,565.9 L456.6,565.1 L455.2,564.2 L454.0,563.4 L452.9,563.0 L451.8,563.2 L450.5,563.7 L449.0,564.3 L447.3,564.8 L445.7,564.9 L444.3,564.3 L443.3,563.2 L442.8,561.6 L442.7,559.9 L442.9,558.2 L443.0,556.8 L442.7,555.7 L442.0,554.8 L440.9,553.9 L439.6,552.9 L438.3,551.7 L437.5,550.3 L437.3,548.8 L437.8,547.4 L438.9,546.2 L440.4,545.3 L441.9,544.6 L443.1,543.9 L444.0,543.1 L444.4,542.1 L444.6,540.7 L444.8,539.0 L445.2,537.4 L446.0,535.9 L447.2,535.0 L448.7,534.7 L450.3,535.1 L451.8,535.9 L453.2,536.8 L454.4,537.6 L455.5,538.0 L456.6,537.8 L457.9,537.3 L459.4,536.7 L461.1,536.2 L462.7,536.1 L464.1,536.7 L465.1,537.8 L465.6,539.4 L465.7,541.1 L465.5,542.8 L465.4,544.2 L465.7,545.3 L466.4,546.2 L467.5,547.1 L468.8,548.1 L470.1,549.3 L470.9,550.7Z"/></clipPath><path d="M471.1,552.2 L470.6,553.6 L469.5,554.8 L468.0,555.7 L466.5,556.4 L465.3,557.1 L464.4,557.9 L464.0,558.9 L463.8,560.3 L463.6,562.0 L463.2,563.6 L462.4,565.1 L461.2,566.0 L459.7,566.3 L458.1,565.9 L456.6,565.1 L455.2,564.2 L454.0,563.4 L452.9,563.0 L451.8,563.2 L450.5,563.7 L449.0,564.3 L447.3,564.8 L445.7,564.9 L444.3,564.3 L443.3,563.2 L442.8,561.6 L442.7,559.9 L442.9,558.2 L443.0,556.8 L442.7,555.7 L442.0,554.8 L440.9,553.9 L439.6,552.9 L438.3,551.7 L437.5,550.3 L437.3,548.8 L437.8,547.4 L438.9,546.2 L440.4,545.3 L441.9,544.6 L443.1,543.9 L444.0,543.1 L444.4,542.1 L444.6,540.7 L444.8,539.0 L445.2,537.4 L446.0,535.9 L447.2,535.0 L448.7,534.7 L450.3,535.1 L451.8,535.9 L453.2,536.8 L454.4,537.6 L455.5,538.0 L456.6,537.8 L457.9,537.3 L459.4,536.7 L461.1,536.2 L462.7,536.1 L464.1,536.7 L465.1,537.8 L465.6,539.4 L465.7,541.1 L465.5,542.8 L465.4,544.2 L465.7,545.3 L466.4,546.2 L467.5,547.1 L468.8,548.1 L470.1,549.3 L470.9,550.7Z" fill="#444444" stroke="#222" stroke-width="1"/><ellipse cx="444.8" cy="552.2" rx="12.8" ry="18.7" fill="#3d3d3d" clip-path="url(#ct1)" filter="url(#b2)"/>
</g>
<g id="ins2">
<path d="M366.6,772.4 L376.9,783.7 L412.8,785.7 L450.7,774.5 L452.7,785 L412,794 L382,792.5 L364,779 Z" fill="#67623f" stroke="#3a351c" stroke-width="0.8"/>
<path d="M442.5,625 L461,637 L458.9,704.8 L451.7,770.4 L450.7,774.5 L414.8,782 Z" fill="url(#gSide2)" stroke="#2b2508" stroke-width="1.1" stroke-linejoin="round"/>
<g stroke="#2b2508" stroke-width="0.9" fill="none"><path d="M446,632 L420,778"/><path d="M449.5,636 L446,700 L437,778"/><path d="M447,652.5 L459.8,654.5"/><path d="M441,706 L458,707"/><path d="M432,757 L452,759"/></g>
<path id="f2" d="M360.8,610.5 C360.6,604.5 362,602.6 366,603 L401.5,608.3 L437,620.8 C441.5,623 443,625 442.5,629 L414.8,780.6 C414.3,784 413.5,785.5 411,785.6 L376.9,783.7 C372,783 368.5,778 366.6,772.4 L360.5,672 Z" fill="url(#gGold2)" stroke="#2b2508" stroke-width="1.6" stroke-linejoin="round"/>
<path d="M364.2,612.6 C364,608 365,606.4 368,606.6 L401,611.6 L435,623.6 C438.6,625.5 439.5,627 439,630 L412,778" fill="none" stroke="#2b2508" stroke-width="0.95"/>
<g stroke="#2b2508" stroke-width="1.25" fill="none">
<path d="M389.2,658.7 L366.6,606"/><path d="M409.7,659.7 Q425,640 440.4,626.9"/><path d="M378,670 L372.8,651.5"/><path d="M422,667.9 L430.2,657.6"/>
<path d="M393.3,740.6 L382,782.7"/><path d="M396,740.6 L387,783"/><path d="M405.6,736.5 L409.7,782.7"/><path d="M376.9,729.4 L370.7,751.9"/>
<ellipse cx="400.5" cy="633" rx="4.4" ry="5.4"/><path d="M399,627.5 L397.5,609 M402.5,628 L405,610.5"/><path d="M401.5,638.5 L402.5,655"/>
</g>
<g fill="none" stroke="#2b2508" stroke-width="1.6"><rect x="364.1" y="620.3" width="7.6" height="3.4" rx="1.7" transform="rotate(-16 367.9 622.0)"/><rect x="364.2" y="626.8" width="7.6" height="3.4" rx="1.7" transform="rotate(-16 368.0 628.5)"/><rect x="364.4" y="633.3" width="7.6" height="3.4" rx="1.7" transform="rotate(-16 368.2 635.0)"/><rect x="364.5" y="639.9" width="7.6" height="3.4" rx="1.7" transform="rotate(-16 368.3 641.6)"/><rect x="364.6" y="646.4" width="7.6" height="3.4" rx="1.7" transform="rotate(-16 368.4 648.1)"/><rect x="364.8" y="652.9" width="7.6" height="3.4" rx="1.7" transform="rotate(-16 368.6 654.6)"/><rect x="364.9" y="659.4" width="7.6" height="3.4" rx="1.7" transform="rotate(-16 368.7 661.1)"/><rect x="365.0" y="666.0" width="7.6" height="3.4" rx="1.7" transform="rotate(-16 368.8 667.7)"/><rect x="365.2" y="672.5" width="7.6" height="3.4" rx="1.7" transform="rotate(-16 369.0 674.2)"/><rect x="365.3" y="679.0" width="7.6" height="3.4" rx="1.7" transform="rotate(-16 369.1 680.7)"/><rect x="365.4" y="685.5" width="7.6" height="3.4" rx="1.7" transform="rotate(-16 369.2 687.2)"/><rect x="365.6" y="692.1" width="7.6" height="3.4" rx="1.7" transform="rotate(-16 369.4 693.8)"/><rect x="365.7" y="698.6" width="7.6" height="3.4" rx="1.7" transform="rotate(-16 369.5 700.3)"/><rect x="365.8" y="705.1" width="7.6" height="3.4" rx="1.7" transform="rotate(-16 369.6 706.8)"/><rect x="366.0" y="711.6" width="7.6" height="3.4" rx="1.7" transform="rotate(-16 369.8 713.3)"/><rect x="366.1" y="718.2" width="7.6" height="3.4" rx="1.7" transform="rotate(-16 369.9 719.9)"/><rect x="366.2" y="724.7" width="7.6" height="3.4" rx="1.7" transform="rotate(-16 370.0 726.4)"/><rect x="366.4" y="731.2" width="7.6" height="3.4" rx="1.7" transform="rotate(-16 370.2 732.9)"/><rect x="366.5" y="737.7" width="7.6" height="3.4" rx="1.7" transform="rotate(-16 370.3 739.4)"/><rect x="366.6" y="744.3" width="7.6" height="3.4" rx="1.7" transform="rotate(-16 370.4 746.0)"/><rect x="366.8" y="750.8" width="7.6" height="3.4" rx="1.7" transform="rotate(-16 370.6 752.5)"/><rect x="366.9" y="757.3" width="7.6" height="3.4" rx="1.7" transform="rotate(-16 370.7 759.0)"/></g>
<g fill="none" stroke="#2b2508" stroke-width="1.6"><rect x="433.7" y="636.9" width="7" height="3.2" rx="1.6" transform="rotate(-22 437.2 638.5)"/><rect x="432.6" y="643.2" width="7" height="3.2" rx="1.6" transform="rotate(-22 436.1 644.8)"/><rect x="431.5" y="649.4" width="7" height="3.2" rx="1.6" transform="rotate(-22 435.0 651.0)"/><rect x="430.4" y="655.7" width="7" height="3.2" rx="1.6" transform="rotate(-22 433.9 657.3)"/><rect x="429.2" y="661.9" width="7" height="3.2" rx="1.6" transform="rotate(-22 432.7 663.5)"/><rect x="428.1" y="668.2" width="7" height="3.2" rx="1.6" transform="rotate(-22 431.6 669.8)"/><rect x="427.0" y="674.5" width="7" height="3.2" rx="1.6" transform="rotate(-22 430.5 676.1)"/><rect x="425.9" y="680.7" width="7" height="3.2" rx="1.6" transform="rotate(-22 429.4 682.3)"/><rect x="424.8" y="687.0" width="7" height="3.2" rx="1.6" transform="rotate(-22 428.3 688.6)"/><rect x="423.7" y="693.3" width="7" height="3.2" rx="1.6" transform="rotate(-22 427.2 694.9)"/><rect x="422.6" y="699.5" width="7" height="3.2" rx="1.6" transform="rotate(-22 426.1 701.1)"/><rect x="421.4" y="705.8" width="7" height="3.2" rx="1.6" transform="rotate(-22 424.9 707.4)"/><rect x="420.3" y="712.0" width="7" height="3.2" rx="1.6" transform="rotate(-22 423.8 713.6)"/><rect x="419.2" y="718.3" width="7" height="3.2" rx="1.6" transform="rotate(-22 422.7 719.9)"/><rect x="418.1" y="724.6" width="7" height="3.2" rx="1.6" transform="rotate(-22 421.6 726.2)"/><rect x="417.0" y="730.8" width="7" height="3.2" rx="1.6" transform="rotate(-22 420.5 732.4)"/><rect x="415.9" y="737.1" width="7" height="3.2" rx="1.6" transform="rotate(-22 419.4 738.7)"/><rect x="414.8" y="743.4" width="7" height="3.2" rx="1.6" transform="rotate(-22 418.3 745.0)"/><rect x="413.6" y="749.6" width="7" height="3.2" rx="1.6" transform="rotate(-22 417.1 751.2)"/><rect x="412.5" y="755.9" width="7" height="3.2" rx="1.6" transform="rotate(-22 416.0 757.5)"/><rect x="411.4" y="762.1" width="7" height="3.2" rx="1.6" transform="rotate(-22 414.9 763.7)"/><rect x="410.3" y="768.4" width="7" height="3.2" rx="1.6" transform="rotate(-22 413.8 770.0)"/></g>
<ellipse cx="398" cy="697" rx="26" ry="40.5" fill="url(#gRing2)" stroke="#2b2508" stroke-width="1.1" transform="rotate(4 398 697)"/>
<ellipse cx="398.2" cy="697.5" rx="23" ry="35.5" fill="none" stroke="#2b2508" stroke-width="0.8" transform="rotate(4 398 697)"/>
<ellipse cx="398.4" cy="698.6" rx="20.5" ry="30.7" fill="#141414"/>
<ellipse cx="398" cy="698" rx="18.6" ry="27.8" fill="url(#gScrew)"/>
<clipPath id="ct2"><path d="M405.8,702.4 L405.3,703.6 L404.2,704.5 L403.0,705.0 L401.8,705.3 L400.8,705.5 L400.1,706.0 L399.7,706.9 L399.4,708.3 L399.1,709.9 L398.6,711.5 L397.9,712.8 L397.0,713.5 L395.9,713.5 L394.8,712.7 L393.9,711.5 L393.1,710.2 L392.5,709.2 L391.8,708.6 L391.0,708.5 L390.0,708.9 L388.8,709.4 L387.5,709.6 L386.4,709.5 L385.4,708.7 L385.0,707.4 L384.9,705.8 L385.2,704.1 L385.6,702.5 L386.0,701.2 L386.0,700.2 L385.6,699.2 L384.9,698.2 L384.0,697.1 L383.2,695.7 L382.7,694.2 L382.8,692.8 L383.3,691.6 L384.4,690.7 L385.6,690.2 L386.8,689.9 L387.8,689.7 L388.5,689.2 L388.9,688.3 L389.2,686.9 L389.5,685.3 L390.0,683.7 L390.7,682.4 L391.6,681.7 L392.7,681.7 L393.8,682.5 L394.7,683.7 L395.5,685.0 L396.1,686.0 L396.8,686.6 L397.6,686.7 L398.6,686.3 L399.8,685.8 L401.1,685.6 L402.2,685.7 L403.2,686.5 L403.6,687.8 L403.7,689.4 L403.4,691.1 L403.0,692.7 L402.6,694.0 L402.6,695.0 L403.0,696.0 L403.7,697.0 L404.6,698.1 L405.4,699.5 L405.9,701.0Z"/></clipPath><path d="M405.8,702.4 L405.3,703.6 L404.2,704.5 L403.0,705.0 L401.8,705.3 L400.8,705.5 L400.1,706.0 L399.7,706.9 L399.4,708.3 L399.1,709.9 L398.6,711.5 L397.9,712.8 L397.0,713.5 L395.9,713.5 L394.8,712.7 L393.9,711.5 L393.1,710.2 L392.5,709.2 L391.8,708.6 L391.0,708.5 L390.0,708.9 L388.8,709.4 L387.5,709.6 L386.4,709.5 L385.4,708.7 L385.0,707.4 L384.9,705.8 L385.2,704.1 L385.6,702.5 L386.0,701.2 L386.0,700.2 L385.6,699.2 L384.9,698.2 L384.0,697.1 L383.2,695.7 L382.7,694.2 L382.8,692.8 L383.3,691.6 L384.4,690.7 L385.6,690.2 L386.8,689.9 L387.8,689.7 L388.5,689.2 L388.9,688.3 L389.2,686.9 L389.5,685.3 L390.0,683.7 L390.7,682.4 L391.6,681.7 L392.7,681.7 L393.8,682.5 L394.7,683.7 L395.5,685.0 L396.1,686.0 L396.8,686.6 L397.6,686.7 L398.6,686.3 L399.8,685.8 L401.1,685.6 L402.2,685.7 L403.2,686.5 L403.6,687.8 L403.7,689.4 L403.4,691.1 L403.0,692.7 L402.6,694.0 L402.6,695.0 L403.0,696.0 L403.7,697.0 L404.6,698.1 L405.4,699.5 L405.9,701.0Z" fill="#444444" stroke="#222" stroke-width="1"/><ellipse cx="387.7" cy="699.2" rx="9.1" ry="18.0" fill="#1c1c1c" clip-path="url(#ct2)" filter="url(#b2)"/>
</g>
<g id="ins3">
<path id="f3" d="M483.1,761 L505,768.6 C510,770.5 513,773 514.2,777 L516.2,820 L518.4,926 C518.4,932 517,934.8 513,935.3 L468,932.3 L440,926.3 L418,919.3 L414,912.3 L416,892.2 L426,872.2 L435,860.2 L440,835 L453,816 L454,808 L460,800 L469,796 L474,790 L479,776 Z" fill="url(#gGold3)" stroke="#2b2508" stroke-width="1.6" stroke-linejoin="round"/>
<path d="M482.5,764.6 L504,772 C508,773.5 510.2,775.5 511,779 L513,820 L515,925 C515,930 514,931.6 511,932 L468,929 L441,923 L421,916.6" fill="none" stroke="#2b2508" stroke-width="0.95"/>
<g stroke="#2b2508" stroke-width="1.25" fill="none">
<path d="M465.1,887.2 L460,928.3"/><path d="M467,887.2 L469,929.3"/><path d="M483,883.2 L506,930.3"/><path d="M450,884.2 L422,914.3"/><path d="M481,806 L507,776"/><path d="M498,818 L503,800"/>
</g>
<g fill="none" stroke="#2b2508" stroke-width="1.6"><rect x="503.0" y="784.3" width="8.4" height="3.4" rx="1.7" transform="rotate(15 507.2 786.0)"/><rect x="503.2" y="790.9" width="8.4" height="3.4" rx="1.7" transform="rotate(15 507.4 792.6)"/><rect x="503.3" y="797.4" width="8.4" height="3.4" rx="1.7" transform="rotate(15 507.5 799.1)"/><rect x="503.5" y="804.0" width="8.4" height="3.4" rx="1.7" transform="rotate(15 507.7 805.7)"/><rect x="503.6" y="810.6" width="8.4" height="3.4" rx="1.7" transform="rotate(15 507.8 812.3)"/><rect x="503.8" y="817.1" width="8.4" height="3.4" rx="1.7" transform="rotate(15 508.0 818.8)"/><rect x="504.0" y="823.7" width="8.4" height="3.4" rx="1.7" transform="rotate(15 508.2 825.4)"/><rect x="504.1" y="830.3" width="8.4" height="3.4" rx="1.7" transform="rotate(15 508.3 832.0)"/><rect x="504.3" y="836.8" width="8.4" height="3.4" rx="1.7" transform="rotate(15 508.5 838.5)"/><rect x="504.4" y="843.4" width="8.4" height="3.4" rx="1.7" transform="rotate(15 508.6 845.1)"/><rect x="504.6" y="849.9" width="8.4" height="3.4" rx="1.7" transform="rotate(15 508.8 851.6)"/><rect x="504.8" y="856.5" width="8.4" height="3.4" rx="1.7" transform="rotate(15 509.0 858.2)"/><rect x="504.9" y="863.1" width="8.4" height="3.4" rx="1.7" transform="rotate(15 509.1 864.8)"/><rect x="505.1" y="869.6" width="8.4" height="3.4" rx="1.7" transform="rotate(15 509.3 871.3)"/><rect x="505.2" y="876.2" width="8.4" height="3.4" rx="1.7" transform="rotate(15 509.4 877.9)"/><rect x="505.4" y="882.8" width="8.4" height="3.4" rx="1.7" transform="rotate(15 509.6 884.5)"/><rect x="505.6" y="889.3" width="8.4" height="3.4" rx="1.7" transform="rotate(15 509.8 891.0)"/><rect x="505.7" y="895.9" width="8.4" height="3.4" rx="1.7" transform="rotate(15 509.9 897.6)"/><rect x="505.9" y="902.5" width="8.4" height="3.4" rx="1.7" transform="rotate(15 510.1 904.2)"/><rect x="506.0" y="909.0" width="8.4" height="3.4" rx="1.7" transform="rotate(15 510.2 910.7)"/><rect x="506.2" y="915.6" width="8.4" height="3.4" rx="1.7" transform="rotate(15 510.4 917.3)"/></g>
<g fill="none" stroke="#2b2508" stroke-width="1.6"><rect x="420.7" y="878.5" width="7.6" height="3.4" rx="1.7" transform="rotate(-8 424.5 880.2)"/><rect x="420.1" y="885.0" width="7.6" height="3.4" rx="1.7" transform="rotate(-8 423.9 886.7)"/><rect x="419.6" y="891.5" width="7.6" height="3.4" rx="1.7" transform="rotate(-8 423.4 893.2)"/><rect x="419.1" y="898.1" width="7.6" height="3.4" rx="1.7" transform="rotate(-8 422.9 899.8)"/><rect x="418.5" y="904.6" width="7.6" height="3.4" rx="1.7" transform="rotate(-8 422.3 906.3)"/></g>
<circle cx="467.1" cy="844.7" r="38.6" fill="url(#gRing)" stroke="#2b2508" stroke-width="1.1" clip-path="url(#cIns3)"/>
<circle cx="467.1" cy="844.7" r="34.5" fill="none" stroke="#2b2508" stroke-width="0.8" clip-path="url(#cIns3)"/>
<ellipse cx="467.1" cy="844.7" rx="31" ry="31.6" fill="#141414"/>
<ellipse cx="466" cy="842.5" rx="27" ry="27.4" fill="url(#gScrew3)"/>
<clipPath id="ct3"><path d="M480.0,849.1 L479.3,850.4 L478.0,851.3 L476.4,852.0 L474.8,852.4 L473.5,852.8 L472.6,853.4 L472.0,854.3 L471.7,855.7 L471.3,857.3 L470.7,858.9 L469.7,860.2 L468.5,860.9 L467.0,860.9 L465.5,860.3 L464.2,859.2 L463.0,858.1 L462.0,857.1 L461.0,856.6 L459.9,856.6 L458.6,857.0 L457.0,857.4 L455.3,857.7 L453.7,857.5 L452.5,856.8 L451.7,855.6 L451.5,854.0 L451.7,852.3 L452.2,850.7 L452.5,849.3 L452.4,848.2 L451.9,847.3 L450.9,846.3 L449.8,845.2 L448.7,843.8 L448.0,842.4 L448.0,840.9 L448.7,839.6 L450.0,838.7 L451.6,838.0 L453.2,837.6 L454.5,837.2 L455.4,836.6 L456.0,835.7 L456.3,834.3 L456.7,832.7 L457.3,831.1 L458.3,829.8 L459.5,829.1 L461.0,829.1 L462.5,829.7 L463.8,830.8 L465.0,831.9 L466.0,832.9 L467.0,833.4 L468.1,833.4 L469.4,833.0 L471.0,832.6 L472.7,832.3 L474.3,832.5 L475.5,833.2 L476.3,834.4 L476.5,836.0 L476.3,837.7 L475.8,839.3 L475.5,840.7 L475.6,841.8 L476.1,842.7 L477.1,843.7 L478.2,844.8 L479.3,846.2 L480.0,847.6Z"/></clipPath><path d="M480.0,849.1 L479.3,850.4 L478.0,851.3 L476.4,852.0 L474.8,852.4 L473.5,852.8 L472.6,853.4 L472.0,854.3 L471.7,855.7 L471.3,857.3 L470.7,858.9 L469.7,860.2 L468.5,860.9 L467.0,860.9 L465.5,860.3 L464.2,859.2 L463.0,858.1 L462.0,857.1 L461.0,856.6 L459.9,856.6 L458.6,857.0 L457.0,857.4 L455.3,857.7 L453.7,857.5 L452.5,856.8 L451.7,855.6 L451.5,854.0 L451.7,852.3 L452.2,850.7 L452.5,849.3 L452.4,848.2 L451.9,847.3 L450.9,846.3 L449.8,845.2 L448.7,843.8 L448.0,842.4 L448.0,840.9 L448.7,839.6 L450.0,838.7 L451.6,838.0 L453.2,837.6 L454.5,837.2 L455.4,836.6 L456.0,835.7 L456.3,834.3 L456.7,832.7 L457.3,831.1 L458.3,829.8 L459.5,829.1 L461.0,829.1 L462.5,829.7 L463.8,830.8 L465.0,831.9 L466.0,832.9 L467.0,833.4 L468.1,833.4 L469.4,833.0 L471.0,832.6 L472.7,832.3 L474.3,832.5 L475.5,833.2 L476.3,834.4 L476.5,836.0 L476.3,837.7 L475.8,839.3 L475.5,840.7 L475.6,841.8 L476.1,842.7 L477.1,843.7 L478.2,844.8 L479.3,846.2 L480.0,847.6Z" fill="#444444" stroke="#222" stroke-width="1"/><ellipse cx="454.9" cy="846.6" rx="12.4" ry="18.2" fill="#333" clip-path="url(#ct3)" filter="url(#b2)"/>
</g>
<g id="over">
<!-- white lobe -->
<path d="M443.3,845 C436,838 425,833 413,832 C398,831 387,840 386.8,855 C386.5,868 392,878 402,881 C408,883 412,882.5 416,881 C421,879 424,876 426,873 C432,864 438,856 447,848 Z" fill="url(#gWLobe)" stroke="#666" stroke-width="0.8"/>
</g>


<g id="dims" stroke="#111" stroke-width="2" fill="#111" stroke-linecap="butt">
<!-- DCSFMS -->
<line x1="11.3" y1="9.5" x2="11.8" y2="184.5"/>
<line x1="508" y1="8" x2="509" y2="182"/>
<line x1="40" y1="23.2" x2="186" y2="22.6"/>
<line x1="370" y1="21.8" x2="478" y2="21.3"/>
<polygon points="12,23.3 43.5,10.8 43.5,35.8" stroke="none"/>
<polygon points="507.5,21.2 475.5,8.7 475.5,33.7" stroke="none"/>
<!-- DCB -->
<line x1="118.6" y1="101" x2="118.8" y2="184"/>
<line x1="402.5" y1="99.5" x2="402.8" y2="185"/>
<line x1="147" y1="112.2" x2="222" y2="112.2"/>
<line x1="314" y1="112.2" x2="373" y2="112.2"/>
<polygon points="119.5,112.2 150.5,99.7 150.5,124.7" stroke="none"/>
<polygon points="402,112.3 370,99.8 370,124.8" stroke="none"/>
<!-- LF -->
<line x1="516.7" y1="189" x2="731.5" y2="189"/>
<line x1="528.3" y1="939.5" x2="731.5" y2="939.5"/>
<line x1="718.6" y1="218" x2="718.6" y2="498.8"/>
<line x1="718.6" y1="572.5" x2="718.6" y2="910"/>
<polygon points="718.6,189.5 705.6,221 731.6,221" stroke="none"/>
<polygon points="718.6,939 705.6,907.5 731.6,907.5" stroke="none"/>
<!-- APMXS -->
<line x1="516" y1="485.7" x2="613" y2="485.7"/>
<line x1="597.7" y1="515" x2="597.7" y2="671.4"/>
<line x1="597.7" y1="746" x2="597.7" y2="910"/>
<polygon points="597.7,486 584.7,517.8 610.7,517.8" stroke="none"/>
<polygon points="597.7,939 584.7,907.3 610.7,907.3" stroke="none"/>
<!-- DC -->
<line x1="2.2" y1="941.4" x2="2.2" y2="1005"/>
<line x1="521.2" y1="944.3" x2="521.2" y2="1006.4"/>
<line x1="30" y1="992.8" x2="237.3" y2="993.2"/>
<line x1="305" y1="993.3" x2="492" y2="993.4"/>
<polygon points="3,992.7 33.4,980.2 33.4,1005.2" stroke="none"/>
<polygon points="520.5,993.5 489.2,981 489.2,1006" stroke="none"/>
</g>
<g class="t" opacity="0.999">
<text x="189.3" y="41.8" textLength="174" lengthAdjust="spacingAndGlyphs">DCSFMS</text>
<text x="224.4" y="132.3" textLength="86.5" lengthAdjust="spacingAndGlyphs">DCB</text>
<text x="690.8" y="557.8" textLength="47.5" lengthAdjust="spacingAndGlyphs">LF</text>
<text x="528.6" y="732" textLength="151" lengthAdjust="spacingAndGlyphs">APMXS</text>
<text x="243.8" y="1010.8" textLength="58" lengthAdjust="spacingAndGlyphs">DC</text>
</g>
</svg>
</body></html>
